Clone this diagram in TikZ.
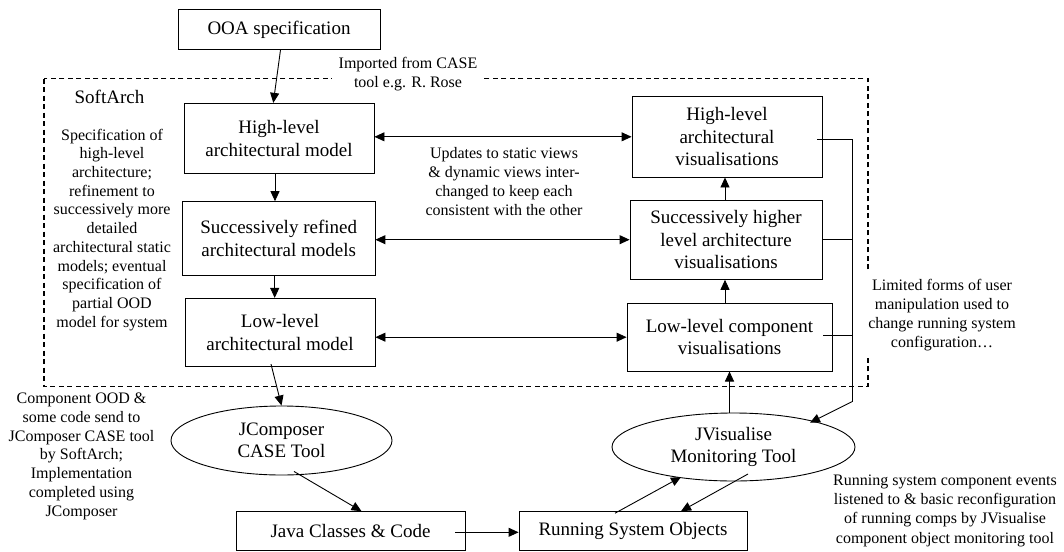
\documentclass[tikz,border=0pt]{standalone}
\usepackage{fontspec}
\setmainfont{Liberation Serif}
\usetikzlibrary{arrows.meta,shapes.geometric,calc}

\begin{document}
\begin{tikzpicture}[x=1pt,y=-1pt,
  line width=0.9pt,
  box/.style={draw, rectangle, inner sep=0pt, align=center,
    font=\fontsize{19}{22.5}\selectfont},
  oval/.style={draw, ellipse, inner sep=0pt, align=center,
    font=\fontsize{19}{22.5}\selectfont},
  note/.style={align=center, inner sep=0pt,
    font=\fontsize{16}{18.8}\selectfont},
  link/.style={-{Triangle[length=10pt,width=9pt]}},
  both/.style={{Triangle[length=10pt,width=9pt]}-{Triangle[length=10pt,width=9pt]}},
  frame/.style={draw, line width=1.3pt, dash pattern=on 5pt off 3.5pt},
]
\useasboundingbox (0,0) rectangle (1064,551);

% SoftArch tool boundary
\draw[frame] (44,78.5) rectangle (868,386.7);

% model and visualisation boxes
\node[box, minimum width=202pt, minimum height=40pt] (ooa) at (279,29.5) {OOA specification};
\node[box, minimum width=190pt, minimum height=70pt] (hlm) at (279,138.3) {High-level\\architectural model};
\node[box, minimum width=192.5pt, minimum height=73.3pt] (refm) at (278.7,238.3) {Successively refined\\architectural models};
\node[box, minimum width=190pt, minimum height=68.3pt] (lowm) at (280,332.5) {Low-level\\architectural model};
\node[box, minimum width=190pt, minimum height=81pt] (hlv) at (727,136.5) {High-level\\architectural\\visualisations};
\node[box, minimum width=192pt, minimum height=79.3pt] (hiv) at (726,239.7) {Successively higher\\level architecture\\visualisations};
\node[box, minimum width=205pt, minimum height=67.7pt] (lowv) at (729.5,337.2) {Low-level component\\visualisations};
\node[oval, minimum width=221pt, minimum height=69pt] (jcomp) at (281.5,440.5) {JComposer\\CASE Tool};
\node[oval, minimum width=243pt, minimum height=68pt] (jvis) at (733.5,447) {JVisualise\\Monitoring Tool};
\node[box, minimum width=229pt, minimum height=38.3pt] (java) at (350.5,530.8) {Java Classes \& Code};
\node[box, minimum width=228pt, minimum height=38.3pt] (run) at (633,530.8) {Running System Objects};

% annotations
\node[note, fill=white, inner xsep=6.5pt, inner ysep=2pt] (imp) at (408,74) {Imported from CASE\\tool e.g. R. Rose};
\node[note, font=\fontsize{19}{22.5}\selectfont] (sa) at (109.5,96.7) {SoftArch};
\node[note, font=\fontsize{16}{18.7}\selectfont] (spec) at (112,229.7) {Specification of\\high-level\\architecture;\\refinement to\\successively more\\detailed\\architectural static\\models; eventual\\specification of\\partial OOD\\model for system};
\node[note] (upd) at (504,181.7) {Updates to static views\\\& dynamic views inter-\\changed to keep each\\consistent with the other};
\node[note, fill=white, inner xsep=4pt, inner ysep=6pt] (lim) at (942,315) {Limited forms of user\\manipulation used to\\change running system\\configuration…};
\node[note] (cood) at (81.5,456.3) {Component OOD \&\\some code send to\\JComposer CASE tool\\by SoftArch;\\Implementation\\completed using\\JComposer};
\node[note, font=\fontsize{16}{19.2}\selectfont] (evt) at (945,510.7) {Running system component events\\listened to \& basic reconfiguration\\of running comps by JVisualise\\component object monitoring tool};

% model refinement chain
\draw[link] ([xshift=1.5pt]ooa.south) -- ([xshift=-5.7pt]hlm.north);
\draw[link] ([xshift=-4pt]hlm.south) -- ([xshift=-4pt]hlm.south |- refm.north);
\draw[link] ([xshift=-4pt]refm.south) -- ([xshift=-4pt]refm.south |- lowm.north);

% static / dynamic view exchange
\draw[both] ([yshift=1.5pt]hlm.east) -- ([yshift=1.5pt]hlm.east -| hlv.west);
\draw[both] (hiv.west -| refm.east) -- (hiv.west);
\draw[both] (lowm.east |- lowv.west) -- (lowv.west);

% visualisation abstraction chain
\draw[link] ([xshift=-1pt]hiv.north) -- ([xshift=-1pt]hiv.north |- hlv.south);
\draw[link] ([xshift=-1pt]lowv.north -| hiv.north) -- ([xshift=-1pt]hiv.south);
\draw[link] (lowv.south |- jvis.north) -- (lowv.south);

% user manipulation feedback bus
\coordinate (busT) at (852,139);
\coordinate (busB) at (852,401.7);
\coordinate (jvin) at (810,422.7);
\draw ([xshift=-5pt]hlv.east |- busT) -- (busT) -- (busB);
\draw (hiv.east) -- (hiv.east -| busT);
\draw ([xshift=-9pt,yshift=1.5pt]lowv.east) -- ([yshift=1.5pt]lowv.east -| busT);
\draw[link] (busB) -- (jvin);

% code generation and runtime
\coordinate (jvbot) at (681,477);
\coordinate (jvr) at (748,474);
\draw[link] ([xshift=-9pt,yshift=3pt]lowm.south) -- (jcomp.north);
\draw[link] ([xshift=12.5pt,yshift=4pt]jcomp.south) -- ([xshift=11pt]java.north);
\draw[link] ([xshift=-10pt,yshift=-1.5pt]java.east) -- ([yshift=-1.5pt]run.west);
\draw[link] ([xshift=-18pt,yshift=-2pt]run.north) -- (jvbot);
\draw[link] (jvr) -- ([xshift=48pt]run.north);
\end{tikzpicture}
\end{document}
